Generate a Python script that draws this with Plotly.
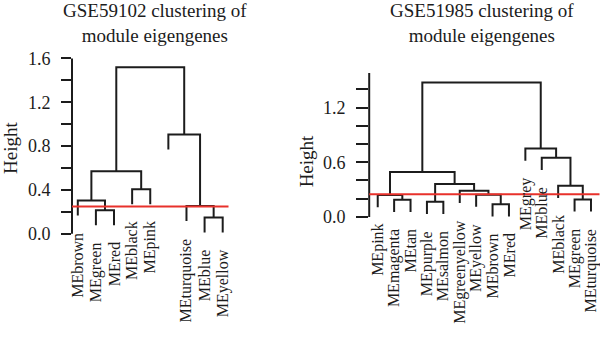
import plotly.graph_objects as go

# ---- GSE59102 dendrogram (leaf order left to right) ----
left_labels = ["MEbrown", "MEgreen", "MEred", "MEblack", "MEpink", "",
               "MEturquoise", "MEblue", "MEyellow"]
# hclust-style merge table: negative = leaf position, positive = earlier merge
left_merge = [(-8, -9), (-2, -3), (-7, 1), (-1, 2), (-4, -5), (4, 5), (-6, 3), (6, 7)]
left_height = [0.148, 0.215, 0.253, 0.304, 0.406, 0.571, 0.907, 1.519]
left_ticks = [0.0, 0.2, 0.4, 0.6, 0.8, 1.0, 1.2, 1.4, 1.6]
left_ticktext = ["0.0", "", "0.4", "", "0.8", "", "1.2", "", "1.6"]

# ---- GSE51985 dendrogram ----
right_labels = ["MEpink", "MEmagenta", "MEtan", "MEpurple", "MEsalmon",
                "MEgreenyellow", "MEyellow", "MEbrown", "MEred", "MEgrey",
                "MEblue", "MEblack", "MEgreen", "MEturquoise"]
right_merge = [(-8, -9), (-4, -5), (-2, -3), (-13, -14), (-1, 3), (-7, 1), (-6, 6),
               (-12, 4), (2, 7), (5, 9), (-11, 8), (-10, 11), (10, 12)]
right_height = [0.139, 0.167, 0.188, 0.192, 0.241, 0.244, 0.286, 0.341, 0.362,
                0.492, 0.649, 0.750, 1.476]
right_ticks = [0.0, 0.2, 0.4, 0.6, 0.8, 1.0, 1.2, 1.4]
right_ticktext = ["0.0", "", "", "0.6", "", "", "1.2", ""]

cut_height = 0.25

SERIF = "Liberation Serif"
INK = "#1c1c1c"
RED = "#e8312b"


def dendrogram_paths(merge, height):
    """Return U-shaped segment coordinates and the bottom of every leaf."""
    hang = 0.1 * (max(height) - min(height))
    node = {}
    leaf_bottom = {}
    xs, ys = [], []
    for k, ((a, b), h) in enumerate(zip(merge, height), start=1):
        ends = []
        for c in (a, b):
            if c < 0:
                pos = -c
                bottom = h - hang
                leaf_bottom[pos] = bottom
                ends.append((pos, bottom))
            else:
                ends.append(node[c])
        (xa, ya), (xb, yb) = ends
        xs += [xa, xa, xb, xb, None]
        ys += [ya, h, h, yb, None]
        node[k] = ((xa + xb) / 2, h)
    return xs, ys, leaf_bottom


fig = go.Figure()

panels = [
    dict(labels=left_labels, merge=left_merge, height=left_height,
         ticks=left_ticks, ticktext=left_ticktext, xax="x", yax="y",
         xdom=[72 / 600, 228.5 / 600], ydom=[1 - 239.9 / 337, 1 - 50.7 / 337],
         yrange=[-0.025, 1.62], axis_top=1.6, ticklen=10,
         title="GSE59102 clustering of<br>module eigengenes", title_x=155, ylab=(10, 147)),
    dict(labels=right_labels, merge=right_merge, height=right_height,
         ticks=right_ticks, ticktext=right_ticktext, xax="x2", yax="y2",
         xdom=[369.2 / 600, 599.5 / 600], ydom=[1 - 222.2 / 337, 1 - 66.3 / 337],
         yrange=[-0.03, 1.6], axis_top=1.58, ticklen=12,
         title="GSE51985 clustering of<br>module eigengenes", title_x=482, ylab=(306, 161)),
]

annotations = []
shapes = []
for i, p in enumerate(panels):
    n = len(p["labels"])
    xs, ys, bottoms = dendrogram_paths(p["merge"], p["height"])
    fig.add_trace(go.Scatter(x=xs, y=ys, mode="lines", xaxis=p["xax"], yaxis=p["yax"],
                             line=dict(color=INK, width=2), hoverinfo="skip",
                             showlegend=False))
    pad = 0.04 * (n - 1)
    suffix = "" if i == 0 else "2"
    fig.update_layout(**{
        "xaxis" + suffix: dict(domain=p["xdom"], range=[1 - pad, n + pad],
                               anchor=p["yax"], visible=False),
        "yaxis" + suffix: dict(domain=p["ydom"], range=p["yrange"], anchor=p["xax"],
                               showgrid=False, zeroline=False, showline=False,
                               tickmode="array", tickvals=p["ticks"],
                               ticktext=p["ticktext"], ticks="outside",
                               ticklen=p["ticklen"], tickwidth=2, tickcolor=INK,
                               ticklabelstandoff=7,
                               tickfont=dict(family=SERIF, size=18, color=INK)),
    })
    # y axis line from 0 to the top tick
    shapes.append(dict(type="line", xref=p["xax"] + " domain", yref=p["yax"],
                       x0=0, x1=0, y0=0, y1=p["axis_top"],
                       line=dict(color=INK, width=2)))
    # cut height
    shapes.append(dict(type="line", xref=p["xax"] + " domain", yref=p["yax"],
                       x0=0, x1=1, y0=cut_height, y1=cut_height,
                       line=dict(color=RED, width=2)))
    # leaf labels hanging under each leaf
    for pos, lab in enumerate(p["labels"], start=1):
        if not lab:
            continue
        annotations.append(dict(x=pos, y=bottoms[pos], xref=p["xax"], yref=p["yax"],
                                text=lab, textangle=-90, showarrow=False,
                                xanchor="center", yanchor="top", yshift=-15,
                                font=dict(family=SERIF, size=16, color=INK)))
    # two-line panel title
    annotations.append(dict(x=p["title_x"] / 600, y=1 + 10 / 337, xref="paper", yref="paper",
                            text=p["title"], showarrow=False, xanchor="center",
                            yanchor="top", font=dict(family=SERIF, size=19, color=INK)))
    annotations.append(dict(x=p["ylab"][0] / 600, y=1 - p["ylab"][1] / 337,
                            xref="paper", yref="paper", text="Height", textangle=-90,
                            showarrow=False, xanchor="center", yanchor="middle",
                            font=dict(family=SERIF, size=19, color=INK)))

fig.update_layout(width=600, height=337, margin=dict(l=0, r=0, t=0, b=0),
                  paper_bgcolor="white", plot_bgcolor="white",
                  annotations=annotations, shapes=shapes)

fig.write_html("out.html")
